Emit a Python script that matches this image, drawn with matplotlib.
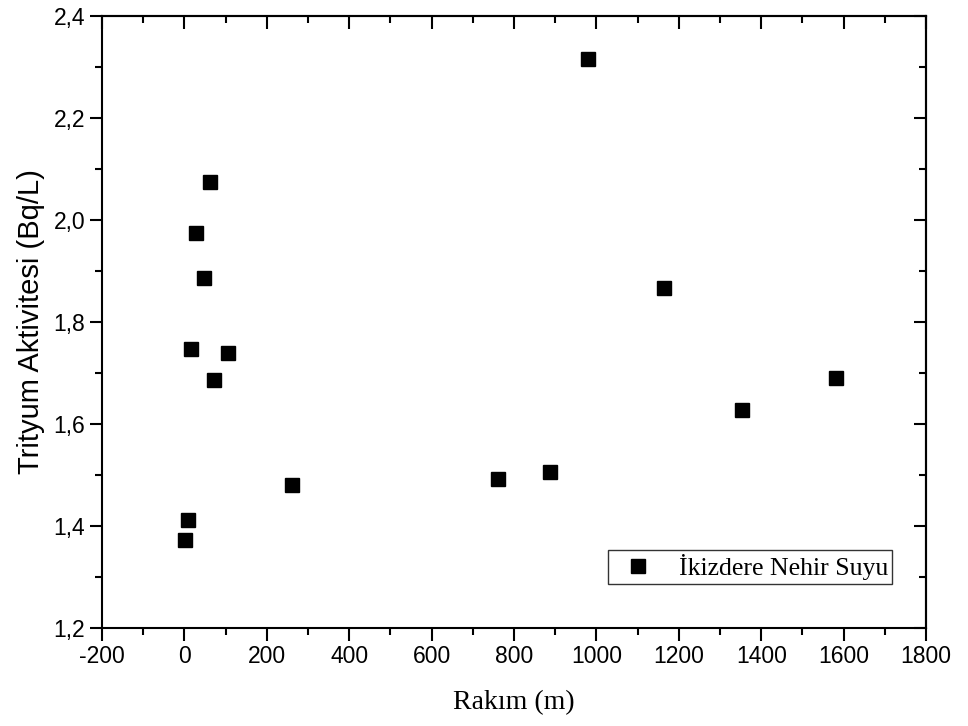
import numpy as np
import matplotlib.pyplot as plt
from matplotlib.ticker import MultipleLocator, FuncFormatter

plt.rcParams['font.family'] = ['Liberation Sans', 'DejaVu Sans']
plt.rcParams['axes.unicode_minus'] = False

# Rakım (m) ve trityum aktivitesi (Bq/L)
rakim = [1, 9, 16, 28, 47, 61, 72, 106, 262, 761, 887, 979, 1164, 1353, 1581]
aktivite = [1.372, 1.412, 1.747, 1.975, 1.886, 2.074, 1.686, 1.739,
            1.480, 1.492, 1.506, 2.316, 1.867, 1.627, 1.690]
seri_adi = 'İkizdere Nehir Suyu'

fig = plt.figure(figsize=(9.68, 7.26), dpi=100)
ax = fig.add_axes([102 / 968, 1 - 628 / 726, 824 / 968, 612 / 726])

ax.plot(rakim, aktivite, 's', color='black', markersize=9.5, label=seri_adi)

ax.set_xlim(-200, 1800)
ax.set_ylim(1.2, 2.4)
ax.xaxis.set_major_locator(MultipleLocator(200))
ax.xaxis.set_minor_locator(MultipleLocator(100))
ax.yaxis.set_major_locator(MultipleLocator(0.2))
ax.yaxis.set_minor_locator(MultipleLocator(0.1))
ax.yaxis.set_major_formatter(FuncFormatter(lambda v, p: f'{v:.1f}'.replace('.', ',')))

for s in ax.spines.values():
    s.set_linewidth(1.5)

ax.tick_params(which='both', direction='out', top=False, right=False, width=1.5,
               labelsize=16.5, pad=3)
ax.tick_params(which='major', length=9)
ax.tick_params(which='minor', length=5)

# ust ve sag eksen: iceri bakan tikler
ax2 = ax.secondary_xaxis('top')
ax2.xaxis.set_major_locator(MultipleLocator(200))
ax2.xaxis.set_minor_locator(MultipleLocator(100))
ax2.tick_params(which='both', direction='in', width=1.5, labeltop=False)
ax2.tick_params(which='major', length=9)
ax2.tick_params(which='minor', length=5)
ax3 = ax.secondary_yaxis('right')
ax3.yaxis.set_major_locator(MultipleLocator(0.2))
ax3.yaxis.set_minor_locator(MultipleLocator(0.1))
ax3.tick_params(which='both', direction='in', width=1.5, labelright=False)
ax3.tick_params(which='major', length=9)
ax3.tick_params(which='minor', length=5)
ax2.spines['top'].set_linewidth(1.5)
ax3.spines['right'].set_linewidth(1.5)

ax.set_xlabel('Rakım (m)', family='Liberation Serif', fontsize=20, labelpad=16)
ax.set_ylabel('Trityum Aktivitesi (Bq/L)', fontsize=21, labelpad=6)

leg = ax.legend(loc='lower right', bbox_to_anchor=(892 / 968, 1 - 584 / 726),
                bbox_transform=fig.transFigure, borderaxespad=0,
                prop={'family': 'Liberation Serif', 'size': 18.5},
                frameon=True, fancybox=False, framealpha=1, edgecolor='#333333',
                handlelength=2.0, handletextpad=0.6, borderpad=0.15, numpoints=1)
leg.get_frame().set_linewidth(1.0)

fig.savefig('out.png', dpi=100)
